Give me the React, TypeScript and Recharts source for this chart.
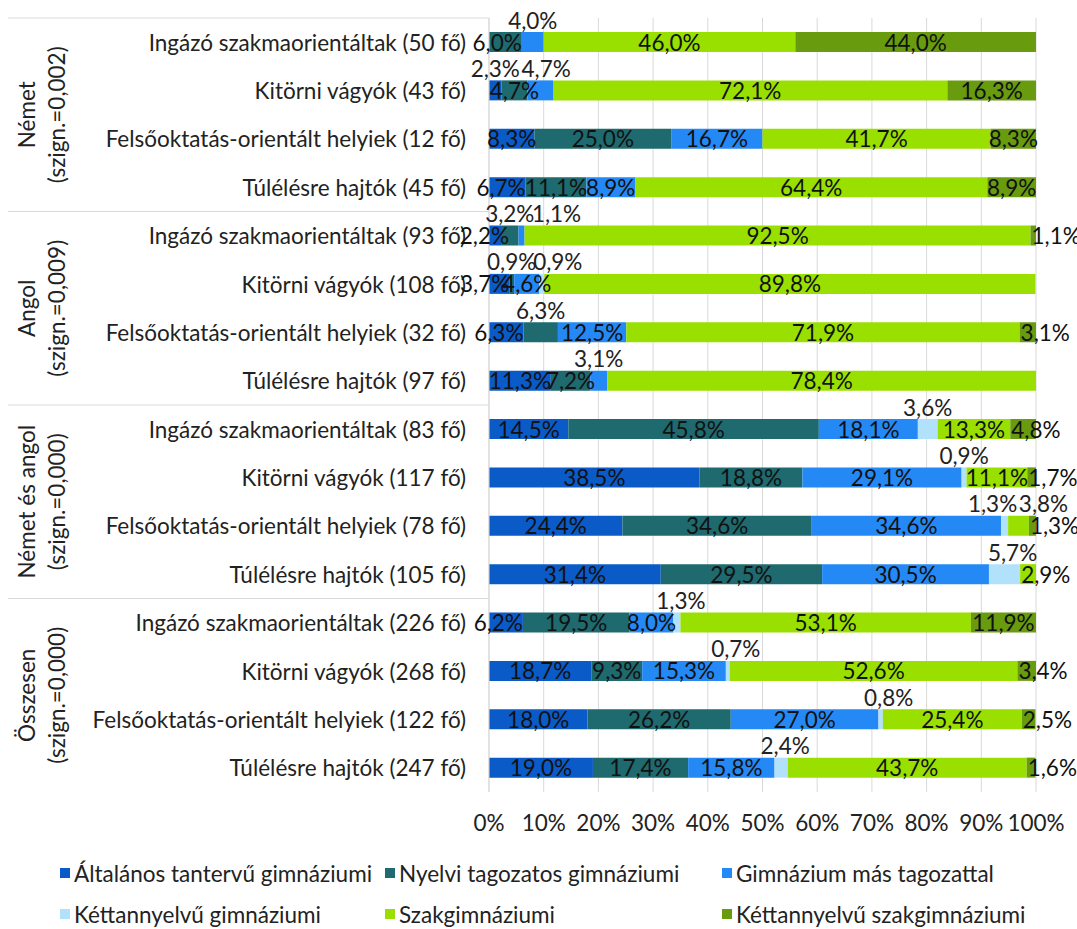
import { BarChart, Bar, XAxis, YAxis, CartesianGrid, LabelList } from "recharts";
import { ReactElement } from "react";

const categories = [
  "Ingázó szakmaorientáltak (50 fő)",
  "Kitörni vágyók (43 fő)",
  "Felsőoktatás-orientált helyiek (12 fő)",
  "Túlélésre hajtók (45 fő)",
  "Ingázó szakmaorientáltak (93 fő)",
  "Kitörni vágyók (108 fő)",
  "Felsőoktatás-orientált helyiek (32 fő)",
  "Túlélésre hajtók (97 fő)",
  "Ingázó szakmaorientáltak (83 fő)",
  "Kitörni vágyók (117 fő)",
  "Felsőoktatás-orientált helyiek (78 fő)",
  "Túlélésre hajtók (105 fő)",
  "Ingázó szakmaorientáltak (226 fő)",
  "Kitörni vágyók (268 fő)",
  "Felsőoktatás-orientált helyiek (122 fő)",
  "Túlélésre hajtók (247 fő)",
];

const groups = [
  ["Német", "(szign.=0,002)"],
  ["Angol", "(szign.=0,009)"],
  ["Német és angol", "(szign.=0,000)"],
  ["Összesen", "(szign.=0,000)"],
];

const altalanos = [0, 2.3, 8.3, 6.7, 2.2, 3.7, 6.3, 11.3, 14.5, 38.5, 24.4, 31.4, 6.2, 18.7, 18.0, 19.0];
const nyelvi = [6.0, 4.7, 25.0, 11.1, 3.2, 0.9, 6.3, 7.2, 45.8, 18.8, 34.6, 29.5, 19.5, 9.3, 26.2, 17.4];
const masTagozat = [4.0, 4.7, 16.7, 8.9, 1.1, 4.6, 12.5, 3.1, 18.1, 29.1, 34.6, 30.5, 8.0, 15.3, 27.0, 15.8];
const ketGimn = [0, 0, 0, 0, 0, 0.9, 0, 0, 3.6, 0.9, 1.3, 5.7, 1.3, 0.7, 0.8, 2.4];
const szakgimn = [46.0, 72.1, 41.7, 64.4, 92.5, 89.8, 71.9, 78.4, 13.3, 11.1, 3.8, 2.9, 53.1, 52.6, 25.4, 43.7];
const ketSzak = [44.0, 16.3, 8.3, 8.9, 1.1, 0, 3.1, 0, 4.8, 1.7, 1.3, 0, 11.9, 3.4, 2.5, 1.6];

const xTicks = [0, 10, 20, 30, 40, 50, 60, 70, 80, 90, 100];

const series = [
  { key: "a", name: "Általános tantervű gimnáziumi", values: altalanos, color: "#0A5BC8" },
  { key: "b", name: "Nyelvi tagozatos gimnáziumi", values: nyelvi, color: "#1E6A6E" },
  { key: "c", name: "Gimnázium más tagozattal", values: masTagozat, color: "#2589F5" },
  { key: "d", name: "Kéttannyelvű gimnáziumi", values: ketGimn, color: "#B1E1FB" },
  { key: "e", name: "Szakgimnáziumi", values: szakgimn, color: "#99E000" },
  { key: "f", name: "Kéttannyelvű szakgimnáziumi", values: ketSzak, color: "#689B0E" },
];

// labels that excel had moved above the bar (row-series -> x shift)
const aboveLabels: Record<string, number> = {
  "0-c": 0, "1-a": 0, "1-c": 6, "4-b": 0, "4-c": 35, "5-b": 0, "5-d": 16,
  "6-b": 0, "7-c": 0, "8-d": 0, "9-d": 0, "10-d": -12, "10-e": 25, "11-d": 8,
  "12-d": 4, "13-d": 8, "14-d": 8, "15-d": 4,
};

const W = 1077;
const H = 929;
const TOP = 18;
const PLOT_H = 774;
const BAND = PLOT_H / categories.length;
const AXIS_X = 489;
const FONT = 22.5;
const TEXT = "#222";

const data = categories.map((name, i) => {
  const row: Record<string, string | number> = { name };
  series.forEach((s) => (row[s.key] = s.values[i]));
  return row;
});

const fmt = (v: number) => v.toFixed(1).replace(".", ",") + "%";

const makeLabel = (si: number) => (props: any) => {
  const { x, y, width, height, value } = props;
  if (!value) return null;
  const cy = y + height / 2;
  const row = Math.round((cy - TOP - BAND / 2) / BAND);
  const key = `${row}-${series[si].key}`;
  if (key in aboveLabels) {
    return (
      <text x={x + width / 2 + aboveLabels[key]} y={cy - 22} textAnchor="middle"
        dominantBaseline="central" fontSize={FONT} fill={TEXT}>
        {fmt(value)}
      </text>
    );
  }
  const vals = series.map((s) => s.values[row]);
  const first = vals.findIndex((v) => v > 0);
  let last = -1;
  vals.forEach((v, i) => { if (v > 0) last = i; });
  let tx = x + width / 2;
  let anchor: "middle" | "start" | "end" = "middle";
  if (width < 42 && si === first) {
    tx = x + Math.max(width, 20);
    anchor = "end";
  } else if (width < 42 && si === last) {
    tx = x + 1;
    anchor = "start";
  }
  return (
    <text x={tx} y={cy} textAnchor={anchor} dominantBaseline="central" fontSize={FONT} fill="#111">
      {fmt(value)}
    </text>
  );
};

const CategoryTick = (props: any) => {
  const { x, y, payload, index } = props;
  const gi = Math.floor(index / 4);
  return (
    <g>
      <text x={x} y={y} textAnchor="end" dominantBaseline="central" fontSize={FONT} fill={TEXT}>
        {payload.value}
      </text>
      {index % 4 === 0 && (
        <g>
          <line x1={8} x2={AXIS_X} y1={y - BAND / 2} y2={y - BAND / 2} stroke="#d9d9d9" />
          {groups[gi].map((line, li) => {
            const cx = li === 0 ? 26 : 56;
            const cy = y + 1.5 * BAND;
            return (
              <text key={li} x={cx} y={cy} transform={`rotate(-90, ${cx}, ${cy})`}
                textAnchor="middle" dominantBaseline="central" fontSize={FONT} fill={TEXT}>
                {line}
              </text>
            );
          })}
        </g>
      )}
    </g>
  );
};

const legendCols = [60, 385, 722];
const legendRows = [873, 914];

export default function App(): ReactElement {
  return (
    <div style={{ position: "absolute", left: 0, top: 0, width: W, height: H, background: "#fff", fontFamily: "Lato, sans-serif" }}>
      <BarChart width={W} height={H} data={data} layout="vertical" barSize={20}
        margin={{ top: TOP, right: W - 1036, bottom: 0, left: 0 }}>
        <CartesianGrid horizontal={false} stroke="#d9d9d9" />
        <XAxis type="number" domain={[0, 100]} ticks={xTicks} allowDataOverflow
          tickFormatter={(v) => `${v}%`} axisLine={false} tickLine={false} tickSize={0}
          tickMargin={23} height={H - TOP - PLOT_H} interval={0}
          tick={{ fontSize: FONT, fill: TEXT }} />
        <YAxis type="category" dataKey="name" width={AXIS_X} tickLine={false} tickSize={0}
          tickMargin={23} axisLine={{ stroke: "#d9d9d9" }} interval={0} tick={<CategoryTick />} />
        {series.map((s, si) => (
          <Bar key={s.key} dataKey={s.key} name={s.name} stackId="s" fill={s.color} isAnimationActive={false}>
            <LabelList dataKey={s.key} content={makeLabel(si)} />
          </Bar>
        ))}
      </BarChart>
      {series.map((s, i) => (
        <div key={s.key} style={{
          position: "absolute", left: legendCols[i % 3], top: legendRows[Math.floor(i / 3)] - 14,
          height: 28, display: "flex", alignItems: "center", fontSize: FONT, color: TEXT, whiteSpace: "nowrap",
        }}>
          <span style={{ display: "inline-block", width: 10, height: 10, background: s.color, marginRight: 4 }} />
          {s.name}
        </div>
      ))}
    </div>
  );
}
